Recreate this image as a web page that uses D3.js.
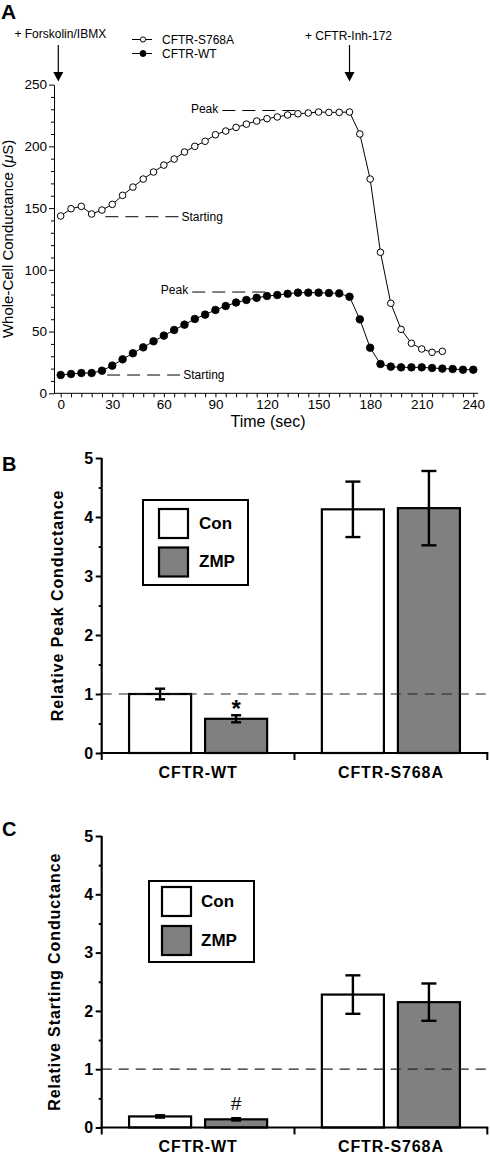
<!DOCTYPE html>
<html><head><meta charset="utf-8">
<script src="https://cdnjs.cloudflare.com/ajax/libs/d3/7.8.5/d3.min.js"></script>
<style>
html,body{margin:0;padding:0;background:#fff;}
svg{display:block;font-family:"Liberation Sans",Arial,Helvetica,sans-serif;}
</style></head><body>
<svg id="chart" width="490" height="1154"></svg>
<script>
// ---------- Panel A data ----------
const s768aTime = [0,6,12,18,24,30,36,42,48,54,60,66,72,78,84,90,96,102,108,114,120,126,132,138,144,150,156,162,168,174,180,186,192,198,204,210,216,222];
const s768aValues = [143.6,149.5,151.4,145.2,148.4,153.0,160.3,167.0,173.5,179.2,184.8,189.7,195.4,200.0,204.1,209.4,212.4,215.3,218.0,220.5,222.4,223.8,225.4,226.4,227.0,227.8,227.5,227.5,227.8,210.0,173.5,114.2,72.9,51.8,40.5,35.9,33.2,34.0];
const wtTime = [0,6,12,18,24,30,36,42,48,54,60,66,72,78,84,90,96,102,108,114,120,126,132,138,144,150,156,162,168,174,180,186,192,198,204,210,216,222,228,234,240];
const wtValues = [14.8,15.6,16.4,16.4,18.3,22.4,27.5,32.4,37.2,42.1,46.7,51.3,55.6,60.2,63.7,67.5,70.7,73.5,75.6,77.3,78.8,79.6,80.6,81.5,81.5,81.5,81.2,80.9,78.2,59.9,36.9,23.7,21.6,21.0,21.0,21.0,20.5,20.0,19.7,19.1,19.1];
const timeTicks = [0,30,60,90,120,150,180,210,240];
const conductanceTicks = [0,50,100,150,200,250];
const seriesNames = ["CFTR-S768A","CFTR-WT"];
// annotations (data units): label, value, t start, t end
const annotations = [
  {label:"Peak", value:229, t0:94, t1:137.5, side:"left"},
  {label:"Starting", value:143, t0:26, t1:68.5, side:"right"},
  {label:"Peak", value:82, t0:76.5, t1:119, side:"left"},
  {label:"Starting", value:14.8, t0:27, t1:69.5, side:"right"}
];
const arrowLabels = ["+ Forskolin/IBMX","+ CFTR-Inh-172"];
const arrowTimes = [-1.4, 168];

// ---------- Panels B/C data ----------
const groups = ["CFTR-WT","CFTR-S768A"];
const treatments = ["Con","ZMP"];
const peakCon = [1.0, 4.13];
const peakConErr = [0.09, 0.47];
const peakZmp = [0.58, 4.15];
const peakZmpErr = [0.06, 0.63];
const startCon = [0.19, 2.28];
const startConErr = [0.02, 0.33];
const startZmp = [0.14, 2.15];
const startZmpErr = [0.02, 0.32];
const relTicks = [0,1,2,3,4,5];

const svg = d3.select("#chart");
const FONT = '"Liberation Sans",Arial,Helvetica,sans-serif';

// ================= PANEL A =================
const xA = d3.scaleLinear().domain([0,240]).range([60.7,473.3]);
const yA = d3.scaleLinear().domain([0,250]).range([393.3,84.6]);
const gA = svg.append("g");

gA.append("text").attr("x",1).attr("y",19).attr("font-size",21).attr("font-weight","bold").text("A");

// x axis
const xAxisA = d3.axisBottom(xA).tickValues(d3.range(0,241,6)).tickSize(4).tickSizeOuter(0)
  .tickFormat(d => timeTicks.includes(d) ? d : "");
const gxA = gA.append("g").attr("transform",`translate(0,${yA(0)})`).call(xAxisA);
gxA.select(".domain").remove();
gxA.append("line").attr("x1",xA(-3.9)).attr("x2",xA(242.8)).attr("stroke","#000").attr("stroke-width",1);
gxA.selectAll("text").attr("font-size",13.5).attr("font-family",FONT).attr("fill","#000").attr("dy","0.75em").attr("y",6);
gxA.selectAll(".tick line").attr("stroke","#000");

// y axis
const yAxisA = d3.axisLeft(yA).tickValues(d3.range(0,251,10)).tickSizeOuter(0)
  .tickFormat(d => conductanceTicks.includes(d) ? d : "");
const gyA = gA.append("g").attr("transform",`translate(${xA(-3.9)},0)`).call(yAxisA);
gyA.selectAll(".tick line").attr("x2", d => conductanceTicks.includes(d) ? -5 : -3).attr("stroke","#000");
gyA.selectAll("text").attr("font-size",13.5).attr("font-family",FONT).attr("fill","#000").attr("x",-7);
gyA.select(".domain").attr("stroke","#000");

// axis titles
gA.append("text").attr("x",(xA(0)+xA(240))/2+1).attr("y",427).attr("text-anchor","middle")
  .attr("font-size",16).text("Time (sec)");
const ylab = gA.append("text").attr("transform",`translate(13,${(yA(0)+yA(250))/2}) rotate(-90)`)
  .attr("text-anchor","middle").attr("font-size",15);
ylab.append("tspan").text("Whole-Cell Conductance (");
ylab.append("tspan").attr("font-style","italic").text("\u03bc");
ylab.append("tspan").text("S)");

// annotations
annotations.forEach(a => {
  gA.append("line").attr("x1",xA(a.t0)).attr("x2",xA(a.t1)).attr("y1",yA(a.value)).attr("y2",yA(a.value))
    .attr("stroke","#000").attr("stroke-width",1).attr("stroke-dasharray","13,7");
  if (a.side === "left") {
    gA.append("text").attr("x",xA(a.t0)-4).attr("y",yA(a.value)+2).attr("text-anchor","end").attr("font-size",12).text(a.label);
  } else {
    gA.append("text").attr("x",xA(a.t1)+3).attr("y",yA(a.value)+4).attr("font-size",12).text(a.label);
  }
});

// arrows
arrowTimes.forEach((t,i) => {
  const x = xA(t);
  gA.append("line").attr("x1",x).attr("x2",x).attr("y1",45).attr("y2",74).attr("stroke","#000").attr("stroke-width",1.2);
  gA.append("path").attr("d",`M${x-5},72 L${x+5},72 L${x},81.5 Z`).attr("fill","#000");
  gA.append("text").attr("x",x + (i===0?2:-1)).attr("y",i===0?37.5:40).attr("text-anchor","middle").attr("font-size",12).text(arrowLabels[i]);
});

// lines
const lineGen = d3.line().x(d => xA(d[0])).y(d => yA(d[1]));
const s768a = s768aTime.map((t,i) => [t, s768aValues[i]]);
const wt = wtTime.map((t,i) => [t, wtValues[i]]);
gA.append("path").attr("d",lineGen(s768a)).attr("fill","none").attr("stroke","#000").attr("stroke-width",1);
gA.append("path").attr("d",lineGen(wt)).attr("fill","none").attr("stroke","#000").attr("stroke-width",1);
gA.selectAll("circle.s").data(s768a).enter().append("circle").attr("class","s")
  .attr("cx",d=>xA(d[0])).attr("cy",d=>yA(d[1])).attr("r",3.3).attr("fill","#fff").attr("stroke","#000").attr("stroke-width",1);
gA.selectAll("circle.w").data(wt).enter().append("circle").attr("class","w")
  .attr("cx",d=>xA(d[0])).attr("cy",d=>yA(d[1])).attr("r",3.8).attr("fill","#000").attr("stroke","#000").attr("stroke-width",0.8);

// legend A
seriesNames.forEach((n,i) => {
  const y = 39.5 + i*14;
  gA.append("line").attr("x1",132).attr("x2",152).attr("y1",y).attr("y2",y).attr("stroke","#000").attr("stroke-width",1);
  gA.append("circle").attr("cx",143).attr("cy",y).attr("r",i===0?2.6:3).attr("fill",i===0?"#fff":"#000").attr("stroke","#000");
  gA.append("text").attr("x",162).attr("y",y+4.2).attr("font-size",12).text(n);
});

// ================= BAR PANELS =================
function barPanel(opts) {
  const g = svg.append("g");
  const y = d3.scaleLinear().domain([0,5]).range([opts.y0, opts.y5]);
  const x = d3.scaleBand().domain(groups).range([101.7,487.3]);
  const xs = d3.scaleBand().domain(treatments).range([0,x.bandwidth()]).paddingInner(0.184).paddingOuter(0.36);
  const fills = {Con:"#fff", ZMP:"#808080"};

  g.append("text").attr("x",2).attr("y",opts.letterY).attr("font-size",20).attr("font-weight","bold").text(opts.letter);

  // bars
  groups.forEach((grp,gi) => {
    treatments.forEach(tr => {
      const m = tr === "Con" ? opts.con[gi] : opts.zmp[gi];
      const e = tr === "Con" ? opts.conErr[gi] : opts.zmpErr[gi];
      const bx = x(grp) + xs(tr);
      g.append("rect").attr("x",bx).attr("y",y(m)).attr("width",xs.bandwidth()).attr("height",y(0)-y(m))
        .attr("fill",fills[tr]).attr("stroke","#000").attr("stroke-width",2.2);
      const cx = bx + xs.bandwidth()/2;
      const cw = gi === 0 ? 5 : 7.5;
      g.append("line").attr("x1",cx).attr("x2",cx).attr("y1",y(m+e)).attr("y2",y(m-e)).attr("stroke","#000").attr("stroke-width",2.4);
      [m+e, m-e].forEach(v => g.append("line").attr("x1",cx-cw).attr("x2",cx+cw).attr("y1",y(v)).attr("y2",y(v)).attr("stroke","#000").attr("stroke-width",2.4));
      if (tr === "ZMP" && gi === 0) {
        g.append("text").attr("x",cx).attr("y",y(m+e)+opts.markDy).attr("text-anchor","middle")
          .attr("font-size",opts.markSize).attr("font-weight",opts.markWeight).text(opts.mark);
      }
    });
  });

  // dashed reference line at 1
  g.append("line").attr("x1",101.7).attr("x2",487.3).attr("y1",y(1)).attr("y2",y(1))
    .attr("stroke","#222").attr("stroke-width",1.2).attr("stroke-dasharray","10,7");

  // y axis
  const yAx = d3.axisLeft(y).tickValues(d3.range(0,5.01,0.5)).tickSizeOuter(0)
    .tickFormat(d => relTicks.includes(d) ? d : "");
  const gy = g.append("g").attr("transform","translate(101.7,0)").call(yAx);
  gy.select(".domain").attr("stroke","#000").attr("stroke-width",2.2).attr("d",`M0,${y(0)+1}V${y(5)}`);
  gy.selectAll(".tick line").attr("x2", d => relTicks.includes(d) ? -6 : -3).attr("stroke","#000").attr("stroke-width",2);
  gy.selectAll("text").attr("font-size",16).attr("font-weight","bold").attr("font-family",FONT).attr("fill","#000").attr("x",-8.5);

  // x axis
  g.append("line").attr("x1",100.6).attr("x2",488.3).attr("y1",y(0)).attr("y2",y(0)).attr("stroke","#000").attr("stroke-width",2.2);
  const bounds = groups.map(d => x(d)).concat([x.range()[1]]);
  bounds.forEach(b => g.append("line").attr("x1",b).attr("x2",b).attr("y1",y(0)).attr("y2",y(0)+7).attr("stroke","#000").attr("stroke-width",2));
  groups.forEach(grp => g.append("text").attr("x",x(grp)+x.bandwidth()/2).attr("y",y(0)+opts.catDy)
    .attr("text-anchor","middle").attr("font-size",16).attr("font-weight","bold").attr("letter-spacing",0.9).text(grp));

  // y title
  g.append("text").attr("transform",`translate(${opts.titleX},${(y(0)+y(5))/2}) rotate(-90)`)
    .attr("text-anchor","middle").attr("font-size",16).attr("font-weight","bold").attr("letter-spacing",0.9).text(opts.title);

  // legend
  const L = opts.legend;
  g.append("rect").attr("x",L.x).attr("y",L.y).attr("width",L.w).attr("height",L.h).attr("fill","#fff").attr("stroke","#000").attr("stroke-width",2);
  treatments.forEach((tr,i) => {
    g.append("rect").attr("x",L.x+L.sx).attr("y",L.y+L.sy+i*L.step).attr("width",29).attr("height",29)
      .attr("fill",fills[tr]).attr("stroke","#000").attr("stroke-width",2.2);
    g.append("text").attr("x",L.x+L.tx).attr("y",L.y+L.ty+i*L.step).attr("font-size",17).attr("font-weight","bold").text(tr);
  });
}

barPanel({letter:"B", letterY:471, y0:753, y5:458, con:peakCon, conErr:peakConErr, zmp:peakZmp, zmpErr:peakZmpErr,
  title:"Relative Peak Conductance", titleX:63, catDy:24.5, mark:"*", markSize:24, markWeight:"bold", markDy:2,
  legend:{x:143, y:500, w:105, h:85, sx:16, sy:9, step:38.5, tx:56, ty:28.5}});
barPanel({letter:"C", letterY:836, y0:1127.5, y5:836, con:startCon, conErr:startConErr, zmp:startZmp, zmpErr:startZmpErr,
  title:"Relative Starting Conductance", titleX:60, catDy:24.5, mark:"#", markSize:19, markWeight:"normal", markDy:-8,
  legend:{x:149, y:881, w:105, h:81, sx:13, sy:6, step:39, tx:52, ty:26}});
</script>
</body></html>
